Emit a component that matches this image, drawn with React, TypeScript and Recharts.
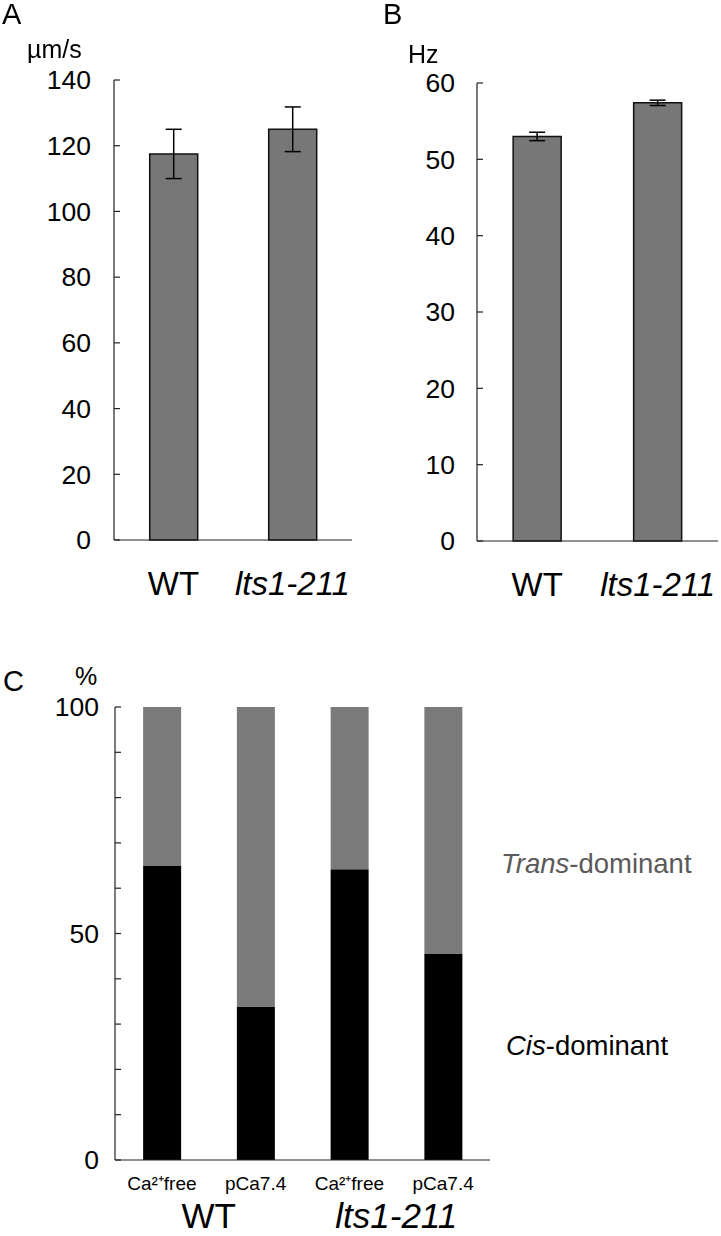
import { BarChart, Bar, XAxis, YAxis, ErrorBar } from "recharts";

const FONT = '"Liberation Sans", Arial, Helvetica, sans-serif';

// panel A / B
const strains = ["WT", "lts1-211"];
const speed = [117.5, 125.0];
const speedErr = [7.5, 6.8];
const freq = [53.0, 57.4];
const freqErr = [0.55, 0.35];
const speedTicks = [0, 20, 40, 60, 80, 100, 120, 140];
const freqTicks = [0, 10, 20, 30, 40, 50, 60];

// panel C
const conditions = ["Ca²⁺free", "pCa7.4", "Ca²⁺free", "pCa7.4"];
const groups = ["WT", "WT", "lts1-211", "lts1-211"];
const cisDominant = [65.0, 33.8, 64.2, 45.6];
const transDominant = [35.0, 66.2, 35.8, 54.4];
const pctTicks = [0, 10, 20, 30, 40, 50, 60, 70, 80, 90, 100];
const pctLabels = [0, 50, 100];

const speedData = strains.map((s, i) => ({ name: s, v: speed[i], err: speedErr[i] }));
const freqData = strains.map((s, i) => ({ name: s, v: freq[i], err: freqErr[i] }));
const pctData = conditions.map((c, i) => ({
  cond: c,
  group: groups[i],
  cis: cisDominant[i],
  trans: transDominant[i],
}));

const AXIS = { stroke: "#222", strokeWidth: 1.2 };

function YTick(props: any) {
  const { x, y, payload, gap, show } = props;
  const label = !show || show.includes(payload.value);
  return (
    <g>
      <line x1={x} x2={x + 6} y1={y} y2={y} stroke="#222" strokeWidth={1.2} />
      {label && (
        <text x={x - gap} y={y} dy="0.35em" textAnchor="end" fontSize={26.5} fontFamily={FONT} fill="#000">
          {payload.value}
        </text>
      )}
    </g>
  );
}

function XTick(props: any) {
  const { x, y, payload, dy, size } = props;
  const italic = payload.value === "lts1-211";
  return (
    <text
      x={x}
      y={y + dy}
      textAnchor="middle"
      fontSize={size}
      fontStyle={italic ? "italic" : "normal"}
      fontFamily={FONT}
      fill="#000"
    >
      {payload.value}
    </text>
  );
}

function Frame() {
  return [
    <XAxis key="t" xAxisId="top" orientation="top" height={0} tick={false} tickLine={false} axisLine={AXIS} />,
    <YAxis key="r" yAxisId="right" orientation="right" width={0} tick={false} tickLine={false} axisLine={AXIS} />,
  ];
}

function Txt({ left, top, size, children, color = "#000" }: any) {
  return (
    <div
      style={{
        position: "absolute",
        left,
        top,
        fontSize: size,
        lineHeight: 1,
        fontFamily: FONT,
        color,
        whiteSpace: "nowrap",
      }}
    >
      {children}
    </div>
  );
}

export default function App() {
  // fixed at the viewport origin so every position is a page coordinate
  return (
    <div style={{ position: "fixed", left: 0, top: 0, width: 721, height: 1236, background: "#fff" }}>
      <div style={{ position: "absolute", left: 0, top: 0 }}>
        <BarChart
          width={360}
          height={620}
          data={speedData}
          margin={{ top: 80, right: 8, left: 54, bottom: 0 }}
          barCategoryGap="30%"
        >
          <XAxis
            dataKey="name"
            height={80}
            tickLine={false}
            tickSize={0}
            tickMargin={0}
            axisLine={AXIS}
            tick={(p: any) => <XTick {...p} dy={55} size={33} />}
          />
          <YAxis
            domain={[0, 140]}
            ticks={speedTicks}
            width={60}
            tickLine={false}
            tickSize={0}
            tickMargin={0}
            axisLine={AXIS}
            tick={(p: any) => <YTick {...p} gap={23} />}
          />
          {Frame()}
          <Bar dataKey="v" fill="#777777" stroke="#111" strokeWidth={1.5} isAnimationActive={false}>
            <ErrorBar dataKey="err" width={8} stroke="#000" strokeWidth={1.5} direction="y" />
          </Bar>
        </BarChart>
      </div>

      <div style={{ position: "absolute", left: 360, top: 0 }}>
        <BarChart
          width={361}
          height={621}
          data={freqData}
          margin={{ top: 83, right: 3, left: 57, bottom: 0 }}
          barCategoryGap="30%"
        >
          <XAxis
            dataKey="name"
            height={80}
            tickLine={false}
            tickSize={0}
            tickMargin={0}
            axisLine={AXIS}
            tick={(p: any) => <XTick {...p} dy={55} size={33} />}
          />
          <YAxis
            domain={[0, 60]}
            ticks={freqTicks}
            width={60}
            tickLine={false}
            tickSize={0}
            tickMargin={0}
            axisLine={AXIS}
            tick={(p: any) => <YTick {...p} gap={22} />}
          />
          {Frame()}
          <Bar dataKey="v" fill="#777777" stroke="#111" strokeWidth={1.5} isAnimationActive={false}>
            <ErrorBar dataKey="err" width={8} stroke="#000" strokeWidth={1.5} direction="y" />
          </Bar>
        </BarChart>
      </div>

      <div style={{ position: "absolute", left: 0, top: 640 }}>
        <BarChart
          width={721}
          height={596}
          data={pctData}
          margin={{ top: 67, right: 231, left: 55, bottom: 0 }}
          barCategoryGap="30%"
        >
          <XAxis
            dataKey="cond"
            height={36}
            tickLine={false}
            tickSize={0}
            tickMargin={0}
            axisLine={AXIS}
            tick={(p: any) => <XTick {...p} dy={30} size={19} />}
          />
          <XAxis
            xAxisId="group"
            dataKey="group"
            allowDuplicatedCategory={false}
            height={40}
            tickLine={false}
            tickSize={0}
            tickMargin={0}
            axisLine={false}
            tick={(p: any) => <XTick {...p} dy={32} size={35} />}
          />
          <YAxis
            domain={[0, 100]}
            ticks={pctTicks}
            width={60}
            tickLine={false}
            tickSize={0}
            tickMargin={0}
            axisLine={AXIS}
            tick={(p: any) => <YTick {...p} gap={16} show={pctLabels} />}
          />
          {Frame()}
          <Bar dataKey="cis" stackId="s" fill="#000" isAnimationActive={false} />
          <Bar dataKey="trans" stackId="s" fill="#7a7a7a" isAnimationActive={false} />
        </BarChart>
      </div>

      <Txt left={2} top={0} size={29}>A</Txt>
      <Txt left={27} top={37} size={25}>µm/s</Txt>
      <Txt left={383} top={0} size={29}>B</Txt>
      <Txt left={408} top={42} size={25}>Hz</Txt>
      <Txt left={3} top={667} size={29}>C</Txt>
      <Txt left={75} top={664} size={25}>%</Txt>
      <Txt left={501} top={850} size={27.5} color="#5a5a5a">
        <i>Trans</i>-dominant
      </Txt>
      <Txt left={506} top={1032} size={27.5}>
        <i>Cis</i>-dominant
      </Txt>
    </div>
  );
}
